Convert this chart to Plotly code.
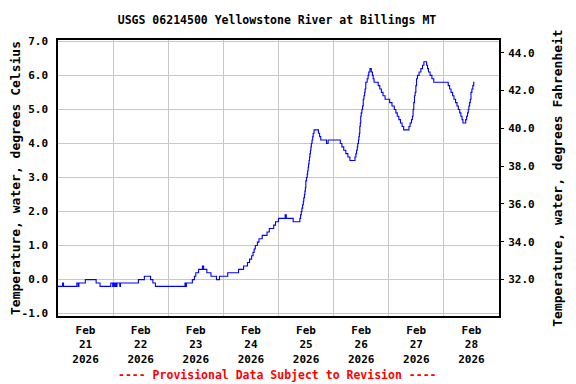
import pandas as pd
import plotly.graph_objects as go

# Change points of the 15-minute record: hours after 2026-02-21 00:00 and temperature (deg C)
hours = [0.0, 2.0, 2.4, 8.2, 8.8, 9.1, 11.9, 16.6, 18.3, 23.0, 23.8, 24.1, 24.6, 24.9, 25.4, 25.7,
         26.9, 27.2, 35.0, 37.6, 40.3, 41.3, 42.4, 55.3, 55.6, 55.9, 58.5, 59.4, 60.0, 61.2, 62.9,
         63.4, 64.8, 66.6, 69.0, 70.3, 73.9, 78.6, 80.8, 82.5, 83.4, 84.3, 84.9, 85.4, 85.9, 86.8,
         87.5, 88.9, 91.0, 92.0, 93.9, 94.7, 96.0, 98.9, 99.4, 102.4, 105.3, 105.6, 105.9, 106.2,
         106.5, 106.8, 107.0, 107.3, 107.5, 107.7, 107.9, 108.2, 108.5, 108.7, 108.9, 109.1, 109.3,
         109.5, 109.7, 109.9, 110.1, 110.3, 110.6, 110.9, 111.1, 111.5, 113.4, 113.9, 114.4, 116.9,
         117.6, 122.9, 123.6, 124.4, 125.3, 126.2, 127.1, 129.3, 129.7, 130.0, 130.3, 130.5, 130.8,
         131.0, 131.2, 131.4, 131.6, 131.8, 132.0, 132.3, 132.6, 132.9, 133.2, 133.5, 133.7, 134.0,
         134.6, 135.0, 135.3, 135.8, 136.4, 136.9, 137.2, 137.6, 139.4, 140.1, 140.8, 141.5, 142.4,
         144.4, 145.4, 146.4, 147.1, 147.7, 148.4, 149.1, 149.8, 150.5, 152.8, 153.3, 153.9, 154.3,
         154.6, 154.9, 155.2, 155.5, 155.8, 156.1, 156.5, 157.2, 158.0, 158.7, 159.3, 160.5, 160.9,
         161.3, 162.0, 162.8, 163.6, 169.9, 170.5, 171.1, 171.8, 172.4, 173.1, 173.7, 174.3, 174.9,
         175.4, 175.9, 176.3, 177.5, 177.9, 178.3, 178.6, 178.9, 179.2, 179.5, 179.8, 180.2, 180.6,
         181.0, 181.3]
temp_c = [-0.2, -0.1, -0.2, -0.1, -0.2, -0.1, 0.0, -0.1, -0.2, -0.1, -0.2, -0.1, -0.2, -0.1, -0.2, -0.1,
          -0.2, -0.1, 0.0, 0.1, 0.0, -0.1, -0.2, -0.1, -0.2, -0.1, 0.0, 0.1, 0.2, 0.3, 0.4,
          0.3, 0.2, 0.1, 0.0, 0.1, 0.2, 0.3, 0.4, 0.5, 0.6, 0.7, 0.8, 0.9, 1.0, 1.1,
          1.2, 1.3, 1.4, 1.5, 1.6, 1.7, 1.8, 1.9, 1.8, 1.7, 1.8, 1.9, 2.0, 2.1,
          2.2, 2.3, 2.4, 2.5, 2.6, 2.7, 2.9, 3.0, 3.1, 3.2, 3.3, 3.4, 3.5,
          3.6, 3.7, 3.8, 3.9, 4.0, 4.1, 4.2, 4.3, 4.4, 4.3, 4.2, 4.1, 4.0,
          4.1, 4.0, 3.9, 3.8, 3.7, 3.6, 3.5, 3.6, 3.7, 3.8, 3.9, 4.0, 4.1,
          4.2, 4.3, 4.5, 4.6, 4.8, 4.9, 5.0, 5.1, 5.3, 5.4, 5.5, 5.6, 5.8,
          5.9, 6.0, 6.1, 6.2, 6.1, 6.0, 5.9, 5.8, 5.7, 5.6, 5.5, 5.4, 5.3,
          5.2, 5.1, 5.0, 4.9, 4.8, 4.7, 4.6, 4.5, 4.4, 4.5, 4.6, 4.7, 4.8,
          5.0, 5.2, 5.4, 5.5, 5.7, 5.9, 6.0, 6.1, 6.2, 6.3, 6.4, 6.3, 6.2,
          6.1, 6.0, 5.9, 5.8, 5.7, 5.6, 5.5, 5.4, 5.3, 5.2, 5.1, 5.0, 4.9,
          4.8, 4.7, 4.6, 4.7, 4.8, 4.9, 5.0, 5.1, 5.2, 5.3, 5.5, 5.6, 5.7,
          5.8, 5.8]

day_labels = ["Feb<br>21<br>2026", "Feb<br>22<br>2026", "Feb<br>23<br>2026", "Feb<br>24<br>2026",
              "Feb<br>25<br>2026", "Feb<br>26<br>2026", "Feb<br>27<br>2026", "Feb<br>28<br>2026"]
c_ticks = [-1.0, 0.0, 1.0, 2.0, 3.0, 4.0, 5.0, 6.0, 7.0]
f_ticks = [32.0, 34.0, 36.0, 38.0, 40.0, 42.0, 44.0]

title_text = "USGS 06214500 Yellowstone River at Billings MT"
left_title = "Temperature, water, degrees Celsius"
right_title = "Temperature, water, degrees Fahrenheit"
caption = "---- Provisional Data Subject to Revision ----"

base = pd.Timestamp("2026-02-21 00:00")
x = [base + pd.Timedelta(hours=h) for h in hours]
temp_f = [v * 1.8 + 32 for v in temp_c]
noons = [base + pd.Timedelta(hours=12 + 24 * i) for i in range(8)]
mids = [base + pd.Timedelta(days=i) for i in range(9)]

c_range = [-1.07, 7.04]
f_range = [c_range[0] * 1.8 + 32, c_range[1] * 1.8 + 32]

FONT = "DejaVu Sans Mono"
FS = 11
FS_T = 11.5

# page body has an 8px margin, so work in figure pixels = window pixels - 8
OFF = 8
W, H = 576 - OFF, 384 - OFF
PL, PR, PT, PB = 58 - OFF, 499 - OFF, 40 - OFF, 316 - OFF  # plot box

fig = go.Figure()
fig.add_trace(go.Scatter(x=x, y=temp_c, mode="lines", line=dict(color="#0000ff", width=1.1, shape="hv"),
                         showlegend=False))
fig.add_trace(go.Scatter(x=x, y=temp_f, mode="lines", yaxis="y2", line=dict(color="rgba(0,0,0,0)", width=0),
                         showlegend=False, hoverinfo="skip"))

def py(ypix):
    return (PB - ypix) / (PB - PT)

def px(xpix):
    return (xpix - PL) / (PR - PL)

fig.update_layout(
    width=W, height=H,
    margin=dict(l=PL, r=W - PR, t=PT, b=H - PB, autoexpand=False),
    paper_bgcolor="white", plot_bgcolor="white",
    font=dict(family=FONT, size=FS, color="black", weight="bold"),
    title=dict(text=title_text, x=(277 - OFF) / W, xanchor="center", y=1 - (20 - OFF) / H, yanchor="middle",
               font=dict(family=FONT, size=FS_T, color="black", weight="bold"), automargin=False),
    xaxis=dict(range=[mids[0], mids[-1]], tickmode="array", tickvals=noons, ticktext=day_labels,
               showgrid=False, ticks="", showline=True, linecolor="black", linewidth=1.5, mirror=True,
               zeroline=False, ticklabelstandoff=3, automargin=False,
               minor=dict(tickvals=mids[1:-1], showgrid=True, gridcolor="#c8c8c8", gridwidth=1, ticks="")),
    yaxis=dict(range=c_range, tickmode="array", tickvals=c_ticks, ticktext=[f"{v:.1f}" for v in c_ticks],
               showgrid=True, gridcolor="#c8c8c8", gridwidth=1, zeroline=False, automargin=False,
               showline=True, linecolor="black", linewidth=1.5, mirror=True, ticks="", ticklabelstandoff=6,
               title=dict(text=left_title, standoff=15)),
    yaxis2=dict(range=f_range, overlaying="y", side="right", tickmode="array", tickvals=f_ticks,
                ticktext=[f"{v:.1f}" for v in f_ticks], showgrid=False, zeroline=False, automargin=False,
                ticks="outside", ticklen=4, tickcolor="black", tickwidth=1, ticklabelstandoff=2,
                title=dict(text=right_title, standoff=19)),
    annotations=[dict(text=caption, x=px(277 - OFF), xref="paper", y=py(375 - OFF), yref="paper",
                      xanchor="center", yanchor="middle", showarrow=False,
                      font=dict(family=FONT, size=FS_T, color="#ff0000", weight="bold"))],
)

fig.write_html("out.html")
